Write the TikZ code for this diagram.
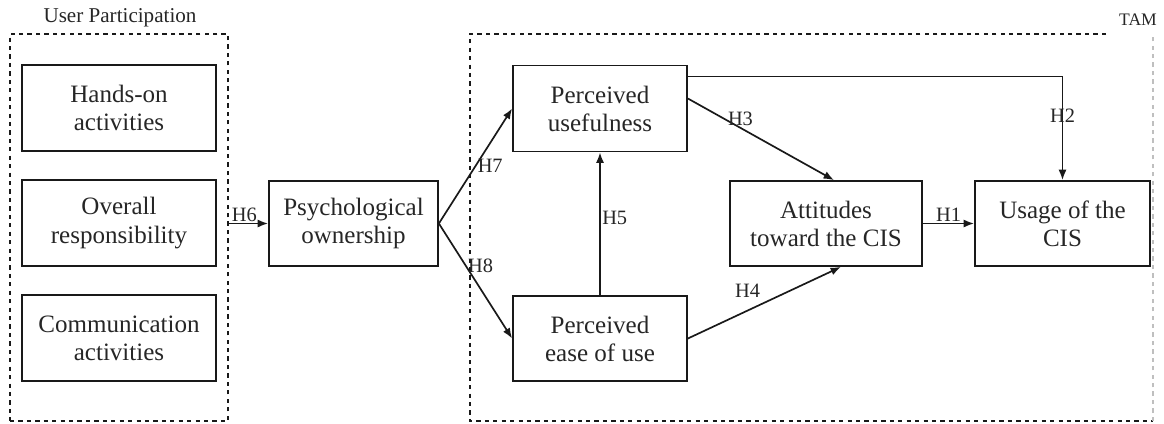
\documentclass[tikz,border=0pt]{standalone}
\usepackage{fontspec}
\setmainfont{Liberation Serif}
\usetikzlibrary{calc,
                 arrows.meta
  }

\begin{document}
\begin{tikzpicture}[
      x=0.025cm,
      y=-0.025cm,
      construct/.style={
                rectangle,
                draw=black!90,
                line width=1.2pt,
                align=center,
                inner sep=0pt,
                minimum height=2.15cm,
                font=\fontsize{17.8}{20}\selectfont
                },
      group/.style={
                draw=black!90,
                dashed,
                line width=0.8pt
                },
      link/.style={
                -{Latex[length=2.6mm,width=2mm]},
                line width=1.2pt,
                draw=black!90
                },
      hyp/.style={font=\fontsize{14.5}{16}\selectfont, inner sep=1pt},
      every node/.style={text=black!85}
]

\useasboundingbox (0,0) rectangle (1164,423);

% user participation
\node[group, minimum width=5.45cm, minimum height=9.675cm] (up) at (119,227.5) {};
\node[font=\fontsize{15}{17}\selectfont] (uplabel) at (120,18) {User Participation};

\node[construct, minimum width=4.85cm] (handson) at ($ (up) + (0,-119.5) $) {Hands-on\\activities};
\node[construct, minimum width=4.85cm] (overall) at ($ (up) + (0,-4.5) $) {Overall\\responsibility};
\node[construct, minimum width=4.85cm] (comm) at ($ (up) + (0,110.5) $) {Communication\\activities};

\node[construct, minimum width=4.225cm, minimum height=2.125cm] (psych) at (353.5,223.5) {Psychological\\ownership};

% TAM
\draw[group] (1106,34) -- (470,34) -- (470,421) -- (1153,421);
\draw[group, draw=black!25] (1153,421) -- (1153,34);
\node[font=\fontsize{12.5}{14}\selectfont] (tamlabel) at (1138,20) {TAM};

\node[construct, minimum width=4.35cm] (pu) at (600,108.5) {Perceived\\usefulness};
\node[construct, minimum width=4.35cm, minimum height=2.125cm] (peou) at (600,338.5) {Perceived\\ease of use};
\node[construct, minimum width=4.8cm, minimum height=2.125cm] (att) at (826,223.5) {Attitudes\\toward the CIS};
\node[construct, minimum width=4.375cm, minimum height=2.125cm] (usage) at (1062.5,223.5) {Usage of the\\CIS};

\draw[link] (up.east |- psych) -- node[hyp, pos=0.4, above] (h6) {H6} (psych.west);
\draw[link] (psych.east) -- node[hyp, pos=0.5, anchor=west] (h7) {H7} (pu.west);
\draw[link] (psych.east) -- node[hyp, pos=0.37, anchor=west] (h8) {H8} (peou.west);
\draw[link] (peou.north) -- node[hyp, pos=0.54, anchor=west] (h5) {H5} (pu.south);
\draw[link] ($ (pu.east) + (0,-10) $) -- node[hyp, pos=0.36, above] (h3) {H3} ($ (att.north) + (8,0) $);
\draw[link] (peou.east) -- node[hyp, pos=0.39, above=8pt] (h4) {H4} ($ (att.south) + (15,0) $);
\draw[link] (att.east) -- node[hyp, pos=0.5, above] (h1) {H1} (usage.west);
\draw[link] ($ (pu.north east) + (0,12) $) -| node[hyp, pos=0.69] (h2) {H2} (usage.north);

\end{tikzpicture}
\end{document}
